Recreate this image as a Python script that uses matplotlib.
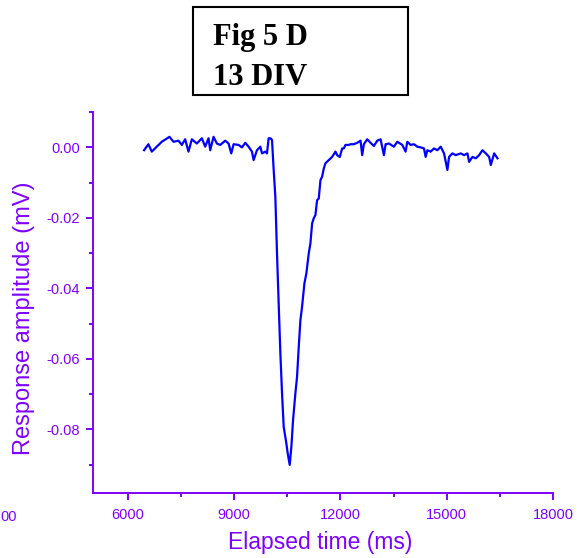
import matplotlib
matplotlib.use('Agg')
import matplotlib.pyplot as plt
from matplotlib.patches import Rectangle
from matplotlib.ticker import MultipleLocator, FormatStrFormatter

# elapsed time (ms) and response (mV)
time_ms = [6453, 6575, 6670, 6811, 6953, 7170, 7283, 7425, 7519, 7613, 7707, 7802,
           7943, 8085, 8179, 8273, 8321, 8415, 8509, 8604, 8745, 8839, 8915, 8981,
           9122, 9217, 9311, 9405, 9500, 9547, 9641, 9736, 9783, 9877, 9924, 9971,
           10019, 10066, 10113, 10160, 10207, 10254, 10302, 10349, 10396, 10471,
           10509, 10566, 10613, 10660, 10726, 10773, 10821, 10868, 10915, 10981,
           11037, 11103, 11151, 11198, 11245, 11292, 11339, 11386, 11434, 11481,
           11528, 11575, 11669, 11764, 11858, 11905, 11981, 12047, 12093, 12141,
           12235, 12283, 12377, 12472, 12566, 12613, 12660, 12755, 12849, 12943,
           13038, 13132, 13226, 13274, 13368, 13509, 13604, 13745, 13839, 13887,
           13981, 14074, 14170, 14264, 14358, 14405, 14453, 14547, 14641, 14736,
           14830, 14924, 15019, 15066, 15160, 15254, 15396, 15490, 15585, 15632,
           15726, 15820, 15915, 16009, 16104, 16198, 16245, 16340, 16434]
response_mv = [-0.0008, 0.0009, -0.0012, 0.0002, 0.0016, 0.0030, 0.0016, 0.0019,
               0.0007, 0.0023, -0.0012, 0.0023, 0.0011, 0.0026, 0.0002, 0.0026,
               -0.0008, 0.0030, 0.0011, 0.0007, 0.0019, 0.0011, -0.0017, 0.0009,
               0.0007, 0.0000, 0.0013, 0.0002, -0.0012, -0.0036, -0.0008, 0.0002,
               -0.0017, -0.0012, -0.0017, 0.0026, 0.0026, 0.0021, -0.0064, -0.0140,
               -0.0301, -0.0443, -0.0584, -0.0698, -0.0793, -0.0840, -0.0868,
               -0.0901, -0.0849, -0.0774, -0.0698, -0.0651, -0.0566, -0.0490,
               -0.0452, -0.0386, -0.0357, -0.0301, -0.0272, -0.0216, -0.0201,
               -0.0192, -0.0150, -0.0145, -0.0093, -0.0083, -0.0060, -0.0045,
               -0.0036, -0.0027, -0.0012, -0.0022, -0.0027, -0.0003, -0.0003,
               0.0007, 0.0007, 0.0009, 0.0009, 0.0013, 0.0019, -0.0022, 0.0009,
               0.0023, 0.0013, 0.0004, 0.0019, 0.0023, -0.0022, 0.0009, 0.0011,
               0.0002, 0.0016, 0.0007, -0.0012, 0.0016, 0.0007, 0.0009, 0.0002,
               0.0000, -0.0003, -0.0027, -0.0008, -0.0012, -0.0003, -0.0008,
               0.0002, -0.0017, -0.0064, -0.0027, -0.0017, -0.0022, -0.0017,
               -0.0022, -0.0017, -0.0041, -0.0027, -0.0031, -0.0022, -0.0008,
               -0.0017, -0.0027, -0.0050, -0.0017, -0.0031]

purple = '#8000ff'
plt.rcParams['font.family'] = ['Liberation Sans', 'DejaVu Sans']

fig = plt.figure(figsize=(5.79, 5.58), dpi=100)
ax = fig.add_axes([0.1606, 0.117, 0.7944, 0.682])
ax.plot(time_ms, response_mv, color='#0000ff', lw=1.6)

ax.set_xlim(5010, 18000)
ax.set_ylim(-0.098, 0.010)
ax.xaxis.set_major_locator(MultipleLocator(3000))
ax.xaxis.set_minor_locator(MultipleLocator(1500))
ax.yaxis.set_major_locator(MultipleLocator(0.02))
ax.yaxis.set_minor_locator(MultipleLocator(0.01))
ax.yaxis.set_major_formatter(FormatStrFormatter('%.2f'))

for s in ['top', 'right']:
    ax.spines[s].set_visible(False)
for s in ['left', 'bottom']:
    ax.spines[s].set_color(purple)
    ax.spines[s].set_linewidth(1.4)
ax.tick_params(which='both', direction='out', colors=purple, labelcolor=purple, width=1.4)
ax.tick_params(which='major', length=5.3, labelsize=10.5)
ax.tick_params(which='minor', length=3)
ax.tick_params(axis='x', pad=5.4)
ax.tick_params(axis='y', pad=4.3)

ax.set_xlabel('Elapsed time (ms)', color=purple, fontsize=16.5, va='center')
ax.xaxis.set_label_coords(0.495, -0.132)
ax.set_ylabel('Response amplitude (mV)', color=purple, fontsize=17, va='center')
ax.yaxis.set_label_coords(-0.15, 0.459)

# cut-off tick label at the far left edge of the page
fig.text(0.5 / 579, 1 - 517 / 558, '00', color=purple, fontsize=10.5,
         ha='left', va='center')

# caption box
fig.add_artist(Rectangle((193 / 579, 1 - 95 / 558), 215 / 579, 88 / 558,
                         transform=fig.transFigure, fill=False,
                         edgecolor='black', lw=1.5))
fig.text(213 / 579, 1 - 45 / 558, 'Fig 5 D', family='Liberation Serif',
         weight='bold', fontsize=22, va='baseline')
fig.text(213 / 579, 1 - 85 / 558, '13 DIV', family='Liberation Serif',
         weight='bold', fontsize=22, va='baseline')

fig.savefig('out.png', dpi=100)
